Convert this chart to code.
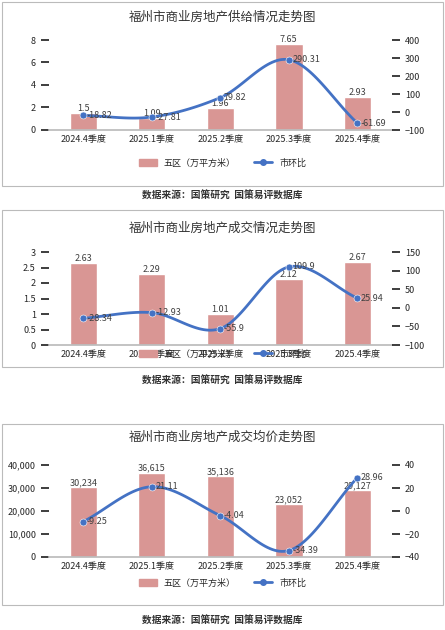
import numpy as np, pandas as pd, seaborn as sns, matplotlib
matplotlib.use("Agg")
import matplotlib.pyplot as plt
from matplotlib.patches import Rectangle

sns.set_theme(style="white")
plt.rcParams['font.family'] = ['Noto Sans CJK SC', 'DejaVu Sans']

quarters = ["2024.4季度", "2025.1季度", "2025.2季度", "2025.3季度", "2025.4季度"]
supply_area = [1.5, 1.09, 1.96, 7.65, 2.93]
supply_mom = [-18.82, -27.81, 79.82, 290.31, -61.69]
deal_area = [2.63, 2.29, 1.01, 2.12, 2.67]
deal_mom = [-28.34, -12.93, -55.9, 109.9, 25.94]
price = [30234, 36615, 35136, 23052, 29127]
price_mom = [-9.25, 21.11, -4.04, -34.39, 28.96]
titles = ["福州市商业房地产供给情况走势图", "福州市商业房地产成交情况走势图", "福州市商业房地产成交均价走势图"]
source = "数据来源：国策研究  国策易评数据库"

BAR = "#D99694"; LINE = "#4472C4"
H = 630.0

def smooth(y):
    y = np.asarray(y, float); n = len(y)
    p = np.concatenate([[2*y[0]-y[1]], y, [2*y[-1]-y[-2]]])
    xs, ys = [], []
    for i in range(n-1):
        t = np.linspace(0, 1, 30)
        p0, p1, p2, p3 = p[i], p[i+1], p[i+2], p[i+3]
        v = 0.5*((2*p1) + (-p0+p2)*t + (2*p0-5*p1+4*p2-p3)*t**2 + (-p0+3*p1-3*p2+p3)*t**3)
        xs.append(i+t); ys.append(v)
    return np.concatenate(xs), np.concatenate(ys)

fig = plt.figure(figsize=(4.45, 6.3), dpi=100)
specs = [
    (supply_area, supply_mom, (0, 8, 2), (-100, 400, 100), "{:g}"),
    (deal_area, deal_mom, (0, 3, 0.5), (-100, 150, 50), "{:g}"),
    (price, price_mom, (0, 40000, 10000), (-40, 40, 20), "{:,.0f}"),
]
# pixel layout: (box_top, box_bottom, title_y, axes_top, axes_bottom, legend_y, source_y)
lay = [(2, 186, 17, 40, 130, 163, 195),
       (210, 367, 228, 252, 345, 354, 380),
       (424, 605, 437, 465, 557, 583, 620)]
for k, (bars, mom, ly, ry, lf) in enumerate(specs):
    bt, bb, ty, at, ab, lgy, sy = lay[k]
    fig.add_artist(Rectangle((0.005, 1-bb/H), 0.99, (bb-bt)/H, transform=fig.transFigure, fill=False, ec="#BBBBBB", lw=0.8))
    fig.text(0.5, 1-ty/H, titles[k], ha="center", va="center", fontsize=9, color="#333333")
    fig.text(0.5, 1-sy/H, source, ha="center", va="center", fontsize=7, fontweight="bold", color="#333333")
    ax = fig.add_axes([0.11, 1-ab/H, 0.77, (ab-at)/H])
    df = pd.DataFrame({"q": quarters, "v": bars})
    sns.barplot(data=df, x="q", y="v", color=BAR, width=0.4, ax=ax, saturation=1, label="五区（万平方米）", legend=False)
    ax.set_ylim(ly[0], ly[1]); ax.set_yticks(np.arange(ly[0], ly[1]+ly[2]/2, ly[2]))
    ax.set_yticklabels([lf.format(v) for v in ax.get_yticks()], fontsize=6.5)
    ax.set_xlabel(""); ax.set_ylabel("")
    ax.tick_params(axis="x", labelsize=6.5, length=0)
    for i, v in enumerate(bars):
        ax.text(i, v, lf.format(v), ha="center", va="bottom", fontsize=6.5, color="#404040")
    ax2 = ax.twinx()
    xs, ys = smooth(mom)
    ax2.plot(xs, ys, color=LINE, lw=2)
    sns.scatterplot(x=np.arange(5), y=mom, color=LINE, s=25, ax=ax2, zorder=5, legend=False)
    ax2.set_ylim(ry[0], ry[1]); ax2.set_yticks(np.arange(ry[0], ry[1]+1, ry[2]))
    ax2.tick_params(axis="y", labelsize=6.5)
    for i, v in enumerate(mom):
        ax2.text(i+0.05, v, f"{v:g}", ha="left", va="center", fontsize=6.5, color="#404040")
    for a in (ax, ax2):
        for s in a.spines.values(): s.set_visible(False)
    ax.spines["bottom"].set_visible(True); ax.spines["bottom"].set_color("#BBBBBB")
    ax.set_xlim(-0.5, 4.5)
    if ax.get_legend() is not None: ax.get_legend().remove()
    h1 = [Rectangle((0, 0), 1, 1, color=BAR)]
    h2 = [plt.Line2D([], [], color=LINE, lw=2, marker="o", ms=4)]
    fig.legend(h1+h2, ["五区（万平方米）", "市环比"], loc="center", bbox_to_anchor=(0.5, 1-lgy/H),
               ncol=2, frameon=False, fontsize=6.5)
fig.savefig("out.png", dpi=100)
